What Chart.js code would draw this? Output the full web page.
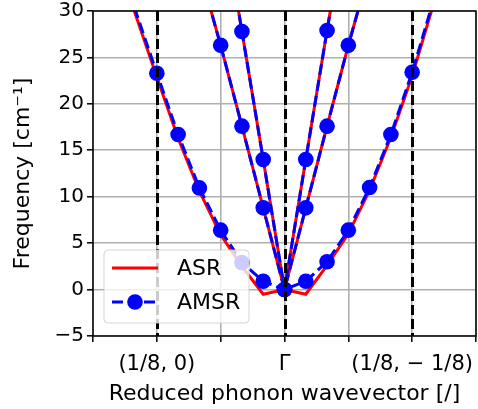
<!DOCTYPE html>
<html>
<head>
<meta charset="utf-8">
<script src="https://cdn.jsdelivr.net/npm/chart.js@4.4.1/dist/chart.umd.min.js"></script>
<style>
  html, body { margin: 0; padding: 0; background: #fff; }
  #wrap { width: 478px; height: 409px; }
</style>
</head>
<body>
<div id="wrap"><canvas id="phononChart" width="478" height="409"></canvas></div>
<script>
// Path coordinate in sixths of a segment: -6 = (1/8,0), 0 = Gamma, 6 = (1/8,-1/8)
var qLA = [-9, -6, -5, -4, -3, -2, -1, 0, 1, 2, 3, 4, 5, 6, 9];
var asrLA = [43.0, 22.9, 16.3, 10.6, 5.9, 2.5, -0.5, 0, -0.5, 2.6, 6.0, 10.7, 16.4, 23.0, 46.2];
var amsrLA = [43.4, 23.3, 16.7, 10.95, 6.4, 2.9, 0.9, 0, 0.9, 3.0, 6.4, 11.0, 16.7, 23.4, 46.6];

var qTA1 = [-4, -3, -2, -1, 0, 1, 2, 3, 4];
var ta1 = [34.5, 26.3, 17.6, 8.8, 0, 8.8, 17.6, 26.3, 34.5];

var qTA2 = [-3, -2, -1, 0, 1, 2, 3];
var ta2 = [41.5, 27.8, 14.0, 0, 14.0, 27.9, 41.5];

// High-symmetry points on the x axis
var symPos = [-1, 0, 1];
var symLabels = ['(1/8, 0)', 'Γ', '(1/8, − 1/8)'];

var yTicks = [-5, 0, 5, 10, 15, 20, 25, 30];

function toPoints(q, vals) {
    return q.map(function (k, i) { return { x: k / 6, y: vals[i] }; });
}

function asrSet(q, vals) {
    return {
        label: 'ASR',
        data: toPoints(q, vals),
        borderColor: '#ff0000',
        borderWidth: 3,
        pointRadius: 0,
        order: 2,
        clip: 0
    };
}

function amsrSet(q, vals) {
    return {
        label: 'AMSR',
        data: toPoints(q, vals),
        borderColor: '#0000ff',
        backgroundColor: '#0000ff',
        borderWidth: 3,
        borderDash: [11, 5],
        pointRadius: 7.8,
        pointBackgroundColor: '#0000ff',
        pointBorderColor: '#0000ff',
        pointBorderWidth: 0,
        order: 1,
        clip: 0
    };
}

// keep the plot box fixed, ignoring label overflow
function noPadding(scale) {
    scale.paddingTop = 0;
    scale.paddingBottom = 0;
    scale.paddingLeft = 0;
    scale.paddingRight = 0;
}

var PLOT_RIGHT = 476;

// pin the right edge of the plot box
var pinArea = {
    id: 'pinArea',
    afterLayout: function (chart) {
        var area = chart.chartArea;
        var xs = chart.scales.x;
        area.right = PLOT_RIGHT;
        area.width = area.right - area.left;
        xs.right = PLOT_RIGHT;
        xs.width = xs.right - xs.left;
        xs.configure();
    }
};

// Spines, high-symmetry dashed lines and the in-plot legend
var overlays = {
    id: 'overlays',
    afterDatasetsDraw: function (chart) {
        var ctx = chart.ctx;
        var area = chart.chartArea;
        var xs = chart.scales.x;

        ctx.save();
        ctx.strokeStyle = '#000';
        ctx.lineWidth = 3;
        ctx.setLineDash([10, 4]);
        symPos.forEach(function (v) {
            var px = Math.round(xs.getPixelForValue(v)) + 0.5;
            ctx.beginPath();
            ctx.moveTo(px, area.top);
            ctx.lineTo(px, area.bottom);
            ctx.stroke();
        });
        ctx.setLineDash([]);

        // legend box
        var lx = 104, ly = 250, lw = 145, lh = 73, r = 4;
        ctx.beginPath();
        ctx.moveTo(lx + r, ly);
        ctx.arcTo(lx + lw, ly, lx + lw, ly + lh, r);
        ctx.arcTo(lx + lw, ly + lh, lx, ly + lh, r);
        ctx.arcTo(lx, ly + lh, lx, ly, r);
        ctx.arcTo(lx, ly, lx + lw, ly, r);
        ctx.closePath();
        ctx.fillStyle = 'rgba(255,255,255,0.8)';
        ctx.fill();
        ctx.strokeStyle = 'rgba(204,204,204,0.8)';
        ctx.lineWidth = 1;
        ctx.stroke();

        ctx.strokeStyle = '#ff0000';
        ctx.lineWidth = 3;
        ctx.beginPath();
        ctx.moveTo(112, 268);
        ctx.lineTo(158, 268);
        ctx.stroke();

        ctx.strokeStyle = '#0000ff';
        ctx.setLineDash([11, 5]);
        ctx.beginPath();
        ctx.moveTo(112, 302);
        ctx.lineTo(158, 302);
        ctx.stroke();
        ctx.setLineDash([]);
        ctx.fillStyle = '#0000ff';
        ctx.beginPath();
        ctx.arc(135, 302, 7.8, 0, Math.PI * 2);
        ctx.fill();

        ctx.fillStyle = '#000';
        ctx.font = '22px "DejaVu Sans"';
        ctx.textBaseline = 'middle';
        ctx.textAlign = 'left';
        ctx.fillText('ASR', 177, 269);
        ctx.fillText('AMSR', 177, 303);

        // axes frame
        ctx.strokeStyle = '#000';
        ctx.lineWidth = 1.5;
        ctx.strokeRect(area.left, area.top, area.right - area.left, area.bottom - area.top);
        ctx.restore();
    }
};

var ctx = document.getElementById('phononChart').getContext('2d');
new Chart(ctx, {
    type: 'line',
    data: {
        datasets: [
            asrSet(qLA, asrLA),
            asrSet(qTA1, ta1),
            asrSet(qTA2, ta2),
            amsrSet(qLA, amsrLA),
            amsrSet(qTA1, ta1),
            amsrSet(qTA2, ta2)
        ]
    },
    options: {
        responsive: false,
        animation: false,
        events: [],
        layout: { padding: { left: 0, top: 11, right: 2, bottom: 0 } },
        plugins: {
            legend: { display: false },
            tooltip: { enabled: false }
        },
        scales: {
            x: {
                type: 'linear',
                min: -1.5,
                max: 1.5,
                afterBuildTicks: function (scale) {
                    scale.ticks = [-1.5, -1, -0.5, 0, 0.5, 1, 1.5].map(function (v) { return { value: v }; });
                },
                afterFit: function (scale) {
                    scale.height = 73;
                    noPadding(scale);
                },
                ticks: {
                    autoSkip: false,
                    maxRotation: 0,
                    padding: 10,
                    color: '#000',
                    font: { family: 'DejaVu Sans', size: 21 },
                    callback: function (v) {
                        var i = symPos.indexOf(v);
                        return i >= 0 ? symLabels[i] : '';
                    }
                },
                grid: { color: '#b0b0b0', lineWidth: 1.6, tickColor: '#000', tickLength: 6, tickWidth: 1.5 },
                border: { display: false },
                title: {
                    display: true,
                    text: 'Reduced phonon wavevector [/]',
                    color: '#000',
                    font: { family: 'DejaVu Sans', size: 22 },
                    padding: { top: 0, bottom: 2 }
                }
            },
            y: {
                min: -5,
                max: 30,
                afterBuildTicks: function (scale) {
                    scale.ticks = yTicks.map(function (v) { return { value: v }; });
                },
                afterFit: function (scale) {
                    scale.width = 93;
                    noPadding(scale);
                },
                ticks: {
                    padding: 3,
                    color: '#000',
                    font: { family: 'DejaVu Sans', size: 20 },
                    callback: function (v) { return v < 0 ? '−' + Math.abs(v) : String(v); }
                },
                grid: { color: '#b0b0b0', lineWidth: 1.6, tickColor: '#000', tickLength: 6, tickWidth: 1.5 },
                border: { display: false },
                title: {
                    display: true,
                    text: 'Frequency [cm⁻¹]',
                    color: '#000',
                    font: { family: 'DejaVu Sans', size: 22 },
                    padding: { top: 10, bottom: 0 }
                }
            }
        }
    },
    plugins: [pinArea, overlays]
});
</script>
</body>
</html>
